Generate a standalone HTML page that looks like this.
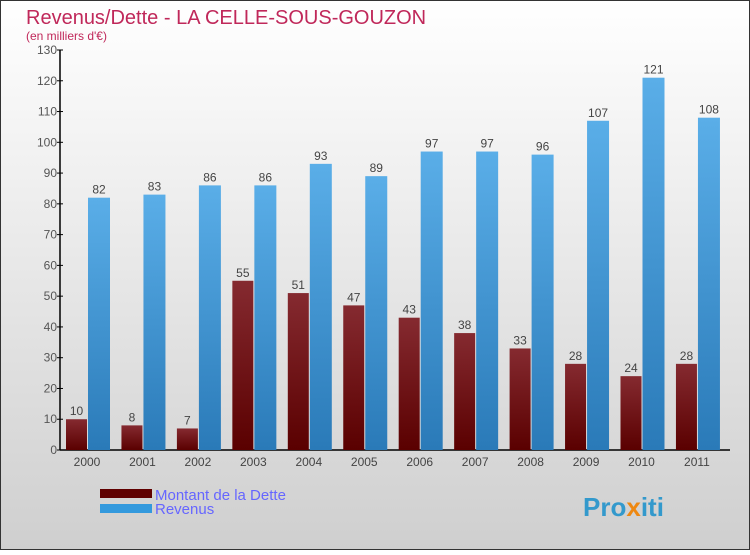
<!DOCTYPE html>
<html><head><meta charset="utf-8"><style>
body{margin:0;width:750px;height:550px;overflow:hidden}
svg{font-family:"Liberation Sans",sans-serif}
</style></head><body>
<svg id="chart" width="750" height="550">
<defs>
<linearGradient id="bg" x1="0" y1="0" x2="0" y2="1"><stop offset="0" stop-color="#ffffff"/><stop offset="1" stop-color="#cfcfcf"/></linearGradient>
<linearGradient id="gd" x1="0" y1="0" x2="0" y2="1"><stop offset="0" stop-color="#852a30"/><stop offset="1" stop-color="#5a0000"/></linearGradient>
<linearGradient id="gr" x1="0" y1="0" x2="0" y2="1"><stop offset="0" stop-color="#5aaee8"/><stop offset="1" stop-color="#2a7ab8"/></linearGradient>
</defs>
<rect x="0.5" y="0.5" width="749" height="549" fill="url(#bg)" stroke="#333"/>
<text x="26" y="24" font-size="20" fill="#c0285a">Revenus/Dette - LA CELLE-SOUS-GOUZON</text>
<text x="26" y="40" font-size="12" fill="#c0285a">(en milliers d'€)</text>
<g id="axes"></g><g id="bars"></g>
<rect x="100" y="489" width="52" height="9" fill="#600000"/>
<rect x="100" y="504" width="52" height="9" fill="#3399dd"/>
<text x="155" y="500" font-size="15" fill="#6666ff">Montant de la Dette</text>
<text x="155" y="514" font-size="15" fill="#6666ff">Revenus</text>
<text x="583" y="516" font-size="26" font-weight="bold" fill="#3399cc">Pro<tspan fill="#ee8811">x</tspan>iti</text>
</svg>
<script>
const years=["2000","2001","2002","2003","2004","2005","2006","2007","2008","2009","2010","2011"];
const dette=[10,8,7,55,51,47,43,38,33,28,24,28];
const revenus=[82,83,86,86,93,89,97,97,96,107,121,108];
const ticks=[0,10,20,30,40,50,60,70,80,90,100,110,120,130];
const NS="http://www.w3.org/2000/svg";
const y0=450,y1=50,vmax=130,x0=60,step=55.45,c0=87;
const y=v=>y0-(v/vmax)*(y0-y1);
const xc=i=>c0+i*step;
const ax=document.getElementById('axes'),bg=document.getElementById('bars');
function mk(tag,at,parent){const e=document.createElementNS(NS,tag);for(const k in at)e.setAttribute(k,at[k]);parent.appendChild(e);return e;}
let l=mk('line',{x1:x0,y1:y1,x2:x0,y2:y0,stroke:'#000','stroke-width':1.5},ax);


l=mk('line',{x1:x0,y1:y0,x2:730,y2:y0,stroke:'#000','stroke-width':1.5},ax);


ticks.forEach(t=>{
 const tk=mk('line',{x1:x0-3,x2:x0+3,y1:y(t),y2:y(t),stroke:'#000'},ax);
 
 
 const tx=mk('text',{x:x0-3,y:y(t)+4,'font-size':12,fill:'#555','text-anchor':'end'},ax);
 tx.textContent=t;
 
 
});
years.forEach((yr,i)=>{
 const c=xc(i);
 const tx=mk('text',{x:c,y:466,'font-size':12,fill:'#444','text-anchor':'middle'},ax);
 tx.textContent=yr;
 
 
 const b1=mk('rect',{x:c-21,y:y(dette[i]),width:21,height:y0-y(dette[i]),fill:'url(#gd)'},bg);
 
 
 const b2=mk('rect',{x:c+1,y:y(revenus[i]),width:22,height:y0-y(revenus[i]),fill:'url(#gr)'},bg);
 
 
 const v1=mk('text',{x:c-10.5,y:y(dette[i])-4,'font-size':12,fill:'#444','text-anchor':'middle'},bg);
 v1.textContent=dette[i];
 
 
 const v2=mk('text',{x:c+12,y:y(revenus[i])-4,'font-size':12,fill:'#444','text-anchor':'middle'},bg);
 v2.textContent=revenus[i];
 
 
});
</script>
</body></html>
